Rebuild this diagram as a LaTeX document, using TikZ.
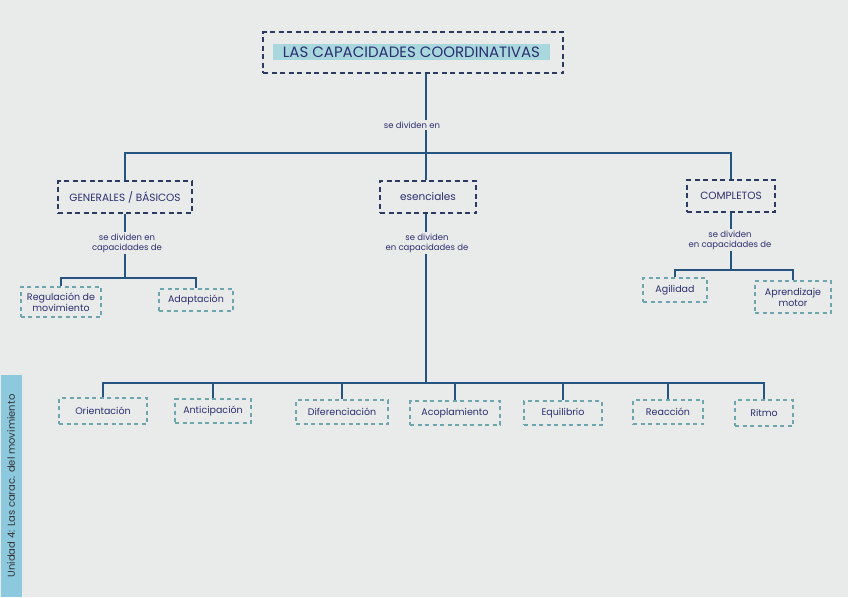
\documentclass[tikz,border=0pt]{standalone}
\usepackage{fontspec}
\setmainfont{Poppins}
\usetikzlibrary{positioning}
\definecolor{paper}{RGB}{233,235,234}
\definecolor{ink}{RGB}{44,46,112}
\definecolor{linkblue}{RGB}{38,84,128}
\definecolor{navy}{RGB}{42,58,96}
\definecolor{leafdash}{RGB}{110,165,175}
\definecolor{marker}{RGB}{168,216,222}
\definecolor{tabblue}{RGB}{140,200,222}

\begin{document}
\begin{tikzpicture}[x=1pt, y=-1pt,
  every node/.style={align=center, text=ink, font=\fontsize{9.5}{11}\selectfont},
  catbox/.style={draw=navy, line width=1.5pt, dash pattern=on 5pt off 3.5pt, inner xsep=8pt, minimum height=32pt, font=\fontsize{10.5}{12}\selectfont},
  leafbox/.style={draw=leafdash, line width=1.5pt, dash pattern=on 4pt off 3.5pt, inner xsep=6pt, minimum height=24pt},
  lbl/.style={fill=paper, inner sep=2pt, font=\fontsize{8.5}{10}\selectfont},
  link/.style={draw=linkblue, line width=1.5pt}]
% paper
\fill[paper] (0,0) rectangle (848,597);
\useasboundingbox (0,0) rectangle (848,597);

% title
\node[draw=navy, line width=1.6pt, dash pattern=on 5pt off 3.5pt, minimum width=300pt, minimum height=41pt] (title) at (413,52.5) {};
\node[fill=marker, minimum width=277pt, minimum height=16pt, inner sep=0pt, font=\fontsize{15}{16}\selectfont] (titletext) at (411.5,52) {LAS CAPACIDADES COORDINATIVAS};

% first level
\node[catbox, minimum width=134pt] (gen) at (125,197) {GENERALES / BÁSICOS};
\node[catbox, minimum width=96pt] (esen) at (428,197) {esenciales};
\node[catbox, minimum width=88pt] (comp) at (731,196) {COMPLETOS};
\coordinate (split) at (426,153);
\draw[link] (title.south -| split) -- (split);
\draw[link] (gen.north) |- (split) -| (comp.north);
\draw[link] (split) -- (esen.north -| split);
\node[lbl] (div) at (412,125) {se dividen en};

% generales
\node[leafbox, minimum width=80pt, minimum height=30pt] (reg) at (61,302) {Regulación de\\movimiento};
\node[leafbox, minimum width=74pt, minimum height=22pt] (adap) at (196,300) {Adaptación};
\coordinate (genbar) at (gen.south |- 0,278);
\draw[link] (gen.south) -- (genbar);
\draw[link] (reg.north) |- (genbar) -| (adap.north);
\node[lbl] (gendiv) at (127,243) {se dividen en\\capacidades de};

% completos
\node[leafbox, minimum width=64pt] (agil) at (675,290) {Agilidad};
\node[leafbox, minimum width=76pt, minimum height=32pt] (aprend) at (793,297) {Aprendizaje\\motor};
\coordinate (compbar) at (comp.south |- 0,270);
\draw[link] (comp.south) -- (compbar);
\draw[link] (agil.north) |- (compbar) -| (aprend.north);
\node[lbl] (compdiv) at (730,240) {se dividen\\en capacidades de};

% esenciales
\node[leafbox, minimum width=88pt, minimum height=26pt] (ori) at (103,411) {Orientación};
\node[leafbox, minimum width=76pt] (anti) at (213,411) {Anticipación};
\node[leafbox, minimum width=92pt] (dif) at (342,412) {Diferenciación};
\node[leafbox, minimum width=90pt] (acop) at (455,413) {Acoplamiento};
\node[leafbox, minimum width=78pt] (equi) at (563,413) {Equilibrio};
\node[leafbox, minimum width=70pt] (reac) at (668,412) {Reacción};
\node[leafbox, minimum width=58pt, minimum height=26pt] (ritmo) at (764,413) {Ritmo};
\coordinate (esenbar) at (esen.south -| split);
\draw[link] (esenbar) -- (split |- 0,383);
\draw[link] (ori.north) |- (split |- 0,383) -| (ritmo.north);
\foreach \n in {anti,dif,acop,equi,reac}
  \draw[link] (\n.north) -- (\n.north |- 0,383);
\node[lbl] (esendiv) at (427,243) {se dividen\\en capacidades de};

% side tab
\node[fill=tabblue, rotate=90, minimum width=222pt, minimum height=21pt, inner sep=0pt, text=black!80, font=\fontsize{10}{11}\selectfont] (unit) at (11,486) {Unidad 4: Las carac. del movimiento};
\end{tikzpicture}
\end{document}
